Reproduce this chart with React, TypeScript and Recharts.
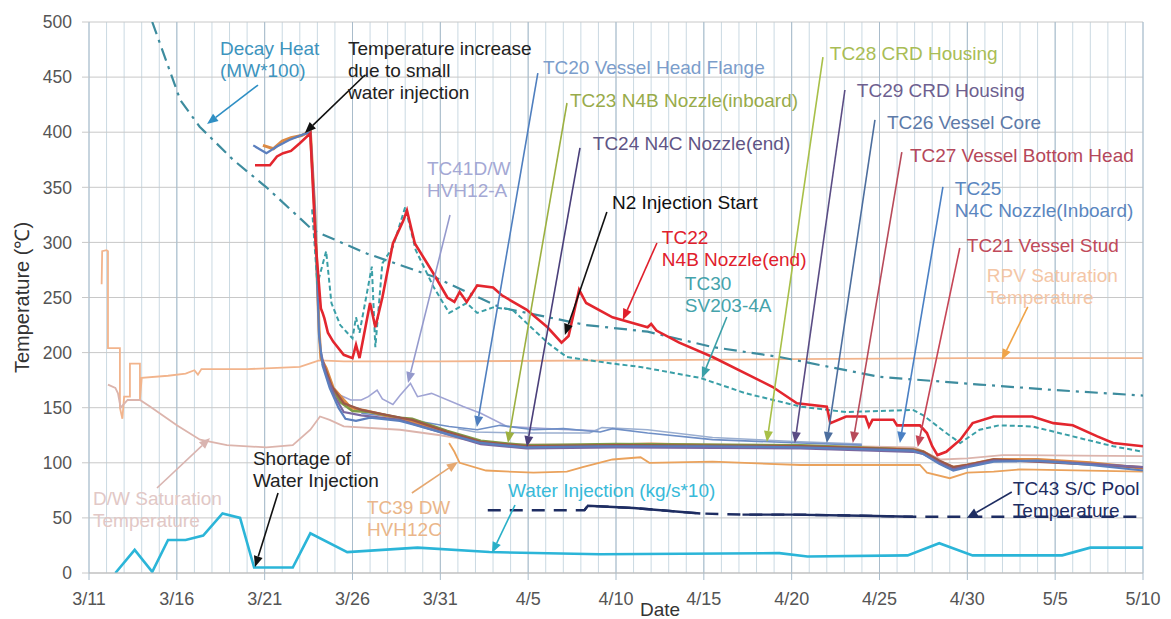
import { CartesianGrid, Line, LineChart, ReferenceDot, ReferenceLine, XAxis, YAxis } from "recharts";

type Pt = [number, number | null];

// x = days after 3/11, y = °C (or scaled value)
const dateLabels = ["3/11", "3/16", "3/21", "3/26", "3/31", "4/5", "4/10", "4/15", "4/20", "4/25", "4/30", "5/5", "5/10"];
const dayTicks = Array.from({ length: 61 }, (_, i) => i);
const labelDays = dateLabels.map((_, i) => i * 5);
const tempTicks = [0, 50, 100, 150, 200, 250, 300, 350, 400, 450, 500];

const decayHeat: Pt[] = [
  [3.6, 500], [5.2, 429], [6.3, 405], [8.2, 375], [10.1, 350], [12.75, 311], [15.8, 290], [19.6, 269],
  [23.4, 241], [28.3, 225], [31.8, 219], [35.5, 205], [39.3, 196], [45, 178], [50.7, 171], [55, 166], [60, 161],
];

const rpvSaturation: Pt[] = [
  [0.72, 262], [0.75, 292], [1.0, 293], [1.08, 292], [1.08, 204], [1.76, 204], [1.76, 150], [1.9, 140],
  [2.0, 160], [2.33, 160], [2.33, 190], [2.9, 190], [2.9, 157], [3.0, 177], [4.5, 179], [5.5, 181], [6.0, 184],
  [6.2, 180], [6.4, 185], [9, 185], [12, 187], [13.1, 193], [14.5, 192], [20, 192], [30, 193], [40, 194], [50, 195], [60, 195],
];

const dwSaturation: Pt[] = [
  [1.08, 171], [1.5, 168], [1.65, 163], [1.8, 150], [2.2, 157], [2.9, 157], [3.47, 151], [5, 134], [6.32, 121],
  [7.85, 116], [10.1, 114], [11.6, 116], [12.6, 130], [13.15, 142], [13.7, 139], [14.5, 133], [17.7, 130],
  [20, 125], [23, 117], [30, 116], [40, 116], [47, 114], [48.5, 103], [50, 104], [52, 107], [60, 106],
];

const waterInjection: Pt[] = [
  [1.5, 0], [2.6, 21], [3.6, 1], [4.5, 30], [5.5, 30], [6.5, 34], [7.6, 54], [8.6, 50], [9.4, 5], [11.6, 5],
  [12.6, 36], [14.7, 19], [18.7, 23], [22.8, 19], [29.1, 17], [39.3, 18], [40.9, 15], [46.6, 16], [48.4, 27],
  [50.3, 16], [55.4, 16], [57, 23], [60, 23],
];

const tc43Dashed: Pt[] = [
  [22.7, 57], [28.2, 57], [28.4, 61], [31, 59], [34.8, 54], [37.2, 53], [40, 53], [44, 52], [46.9, 51], [60, 51],
];
const tc43Solid: Pt[] = [
  [28.2, 57], [28.4, 61], [31, 59], [34.8, 54], [35, null], [37.2, 53], [40, 53], [44, 52], [46.9, 51],
];

const tc22: Pt[] = [
  [9.45, 370], [10.3, 370], [10.7, 378], [11.05, 381], [11.5, 383], [12.0, 390], [12.6, 399], [12.9, 300],
  [13.2, 240], [13.3, 236], [13.4, 231], [13.6, 218], [13.9, 210], [14.5, 198], [15.0, 195], [15.2, 207],
  [15.4, 195], [16.0, 245], [16.3, 223], [16.7, 250], [17.3, 299], [17.9, 320], [18.1, 329], [18.55, 299],
  [19.6, 272], [20.4, 250], [20.8, 246], [21.1, 255], [21.5, 246], [22.1, 261], [23.0, 259], [23.5, 252],
  [24.9, 239], [26.1, 223], [26.9, 209], [27.3, 215], [27.9, 257], [28.3, 245], [29.8, 232], [31.8, 223],
  [32.0, 226], [32.3, 220], [33.6, 209], [35.5, 196], [38.9, 169], [40.3, 154], [42.0, 151], [42.2, 136],
  [43.1, 142], [44.2, 142], [44.4, 133], [44.6, 139], [45.8, 139], [46.0, 134], [47.3, 134], [47.7, 127],
  [48.0, 115], [48.3, 107], [48.8, 110], [49.6, 121], [50.3, 136], [51.5, 142], [53.7, 142], [54.9, 136],
  [56, 134], [57.4, 124], [58.3, 118], [60, 115],
];

const tc30: Pt[] = [
  [12.7, 330], [13.0, 262], [13.5, 292], [13.8, 245], [14.3, 225], [14.7, 218], [15.0, 213], [15.2, 232],
  [15.4, 218], [16.1, 278], [16.3, 205], [16.7, 281], [17.3, 296], [18.0, 332], [18.6, 293], [19.6, 260],
  [20.5, 236], [21.5, 245], [22.1, 236], [23.0, 241], [24.1, 239], [26.1, 209], [27.2, 196], [29.8, 190],
  [31.4, 187], [34.8, 177], [37.4, 163], [40.5, 151], [43.1, 146], [46.9, 148], [47.5, 143], [48.8, 127],
  [49.6, 118], [50.7, 130], [51.8, 134], [53.7, 133], [56, 124], [58.3, 115], [60, 110],
];

const bundleOrange: Pt[] = [
  [9.9, 388], [10.5, 385], [11.0, 392], [11.5, 395], [12.1, 397], [12.6, 401], [12.85, 330], [13.1, 220],
  [13.2, 195], [13.5, 186], [13.9, 168], [14.5, 157], [14.9, 150], [15.8, 147], [17.7, 140], [18.4, 137],
  [20.4, 127], [22.3, 119], [24.9, 115], [29, 116], [32, 117], [35, 116], [40.5, 115], [46.9, 112], [47.5, 110],
  [48.4, 101], [49.2, 96], [50, 98], [51.5, 103], [54, 103], [57, 100], [60, 95],
];
const bundleBlue: Pt[] = [
  [9.35, 388], [10.1, 381], [10.7, 387], [11.4, 393], [12.2, 398], [12.6, 400], [12.85, 330], [13.1, 215],
  [13.3, 188], [13.7, 168], [14.2, 150], [14.6, 140], [15.2, 138], [16, 141], [17.7, 138], [18.4, 135],
  [20.4, 126], [22.3, 118], [24.9, 114], [29, 115], [35, 115], [40.5, 114], [46.9, 111], [47.5, 108],
  [48.4, 99], [49.2, 93], [50, 96], [51.5, 101], [54, 102], [57, 98], [60, 93],
];
const bundlePurple: Pt[] = [
  [13.2, 200], [13.5, 180], [14, 160], [14.5, 146], [15.5, 143], [17.7, 139], [20.4, 126], [22.3, 117],
  [24.9, 113], [30, 114], [40.5, 113], [46.9, 110], [47.5, 108], [48.4, 100], [49.2, 94], [50, 97],
  [51.5, 102], [55, 101], [60, 96],
];
const bundleGreen: Pt[] = [
  [13.3, 190], [13.7, 172], [14.3, 155], [15, 147], [16, 146], [17.7, 141], [18.4, 140], [20.4, 129],
  [22.3, 120], [24.9, 116], [30, 117], [40.5, 116], [46.9, 112], [47.5, 110],
];
const bundleBrown: Pt[] = [
  [13.3, 192], [13.8, 170], [14.5, 154], [15.5, 148], [17.7, 141], [18.4, 139], [20.4, 128], [22.3, 119],
  [24.9, 115], [30, 116], [40.5, 115], [46.9, 112], [47.5, 110], [48.4, 102], [49.2, 96], [50, 98],
  [51.5, 103], [60, 96],
];

const tc20: Pt[] = [
  [15.5, 145], [17.7, 141], [19, 137], [20.5, 133], [22.1, 130], [23.4, 134], [25.3, 130], [27, 131],
  [29.1, 128], [29.8, 131], [31.8, 127], [35.5, 121], [40.5, 118], [44, 116],
];
const tc20b: Pt[] = [
  [21, 131], [22, 128], [25, 127], [28.5, 127], [29.2, 132], [31.8, 130], [35.5, 123], [40.5, 119], [44, 117],
];
const tc41: Pt[] = [
  [13.8, 165], [14.9, 157], [15.5, 157], [15.9, 160], [16.4, 166], [16.7, 158], [17.3, 153], [17.7, 161],
  [18.3, 172], [18.7, 160], [19.5, 163], [21.3, 151], [22.3, 145], [23.8, 133], [26, 131], [29, 129],
];
const tc39: Pt[] = [
  [20.5, 118], [20.8, 110], [21.1, 100], [22.6, 93], [25.3, 91], [27.2, 92], [28.1, 96], [29.8, 103],
  [31.4, 105], [31.9, 100], [35.5, 101], [40.5, 98], [47.3, 98], [47.7, 91], [49, 86], [50, 91], [51.5, 92],
  [53, 94], [60, 92],
];

// annotation text: [day, value] of first line's left/middle
const notes = [
  { lines: ["Decay Heat", "(MW*100)"], at: [7.46, 476.4], color: "#3d94be" },
  { lines: ["Temperature increase", "due to small", "water injection"], at: [14.74, 476.4], color: "#222" },
  { lines: ["TC20 Vessel Head Flange"], at: [25.84, 459.2], color: "#7b9dcb" },
  { lines: ["TC23 N4B Nozzle(inboard)"], at: [27.38, 429.2], color: "#98ab4a" },
  { lines: ["TC24 N4C Nozzle(end)"], at: [28.68, 390.2], color: "#5f5585" },
  { lines: ["TC41D/W", "HVH12-A"], at: [19.24, 367.5], color: "#a4a8d4" },
  { lines: ["N2 Injection Start"], at: [29.77, 336.7], color: "#111" },
  { lines: ["TC22", "N4B Nozzle(end)"], at: [32.61, 304.9], color: "#e0202c" },
  { lines: ["TC30", "SV203-4A"], at: [33.92, 263.2], color: "#45a3ab" },
  { lines: ["TC28 CRD Housing"], at: [42.17, 471.9], color: "#a9bd55" },
  { lines: ["TC29 CRD Housing"], at: [43.71, 438.3], color: "#6e5f8f" },
  { lines: ["TC26 Vessel Core"], at: [45.42, 409.3], color: "#5d7aa8" },
  { lines: ["TC27 Vessel Bottom Head"], at: [46.73, 379.3], color: "#b5475a" },
  { lines: ["TC25", "N4C Nozzle(Inboard)"], at: [49.29, 349.4], color: "#5a86c0" },
  { lines: ["TC21 Vessel Stud"], at: [49.97, 297.6], color: "#c04a5a" },
  { lines: ["RPV Saturation", "Temperature"], at: [51.11, 270.4], color: "#f4c6a6" },
  { lines: ["D/W Saturation", "Temperature"], at: [0.23, 68.1], color: "#e2c8c6" },
  { lines: ["Shortage of", "Water Injection"], at: [9.33, 104.4], color: "#222" },
  { lines: ["TC39 DW", "HVH12C"], at: [15.82, 59.9], color: "#eab68a" },
  { lines: ["Water Injection (kg/s*10)"], at: [23.85, 75.3], color: "#38bad9" },
  { lines: ["TC43 S/C Pool", "Temperature"], at: [52.59, 77.1], color: "#1e2d62" },
];

const arrows = [
  { from: [9.62, 442.8], to: [6.72, 407.4], color: "#2f8fc4" },
  { from: [15.71, 451.9], to: [12.29, 399.3], color: "#111" },
  { from: [25.55, 453.7], to: [22.08, 132.5], color: "#4f7fbf" },
  { from: [27.21, 426.5], to: [23.85, 118.0], color: "#9cb040" },
  { from: [27.95, 385.7], to: [24.93, 114.3], color: "#4a3f7a" },
  { from: [20.55, 324.9], to: [18.16, 172.4], color: "#9499cc" },
  { from: [29.48, 327.6], to: [27.09, 216.0], color: "#111" },
  { from: [32.33, 299.5], to: [30.39, 229.6], color: "#e0202c" },
  { from: [36.31, 232.3], to: [34.89, 176.9], color: "#3aa0a8" },
  { from: [41.78, 468.2], to: [38.59, 118.9], color: "#a8c048" },
  { from: [43.03, 438.3], to: [40.18, 118.0], color: "#5a4c84" },
  { from: [44.74, 411.1], to: [42.0, 118.0], color: "#4c6e9e" },
  { from: [46.27, 382.0], to: [43.48, 118.0], color: "#b84a5a" },
  { from: [48.61, 350.3], to: [46.16, 118.0], color: "#4a80c4" },
  { from: [49.57, 294.9], to: [47.18, 114.3], color: "#c64556" },
  { from: [53.44, 241.4], to: [51.96, 193.3], color: "#f0a448" },
  { from: [3.87, 77.1], to: [6.89, 122.5], color: "#d9b4b0" },
  { from: [10.76, 72.6], to: [9.45, 5.4], color: "#111" },
  { from: [18.38, 72.6], to: [21.0, 100.7], color: "#e6a870" },
  { from: [24.25, 61.7], to: [22.94, 18.1], color: "#2ab0c8" },
  { from: [52.53, 73.5], to: [49.97, 49.9], color: "#1e2d62" },
];

const rows = (pts: Pt[]) => pts.map(([day, v]) => ({ day, v }));

const arrowShape = (color: string) => (p: any) => {
  const { x1, y1, x2, y2 } = p;
  if ([x1, y1, x2, y2].some((n) => typeof n !== "number" || Number.isNaN(n))) return <g />;
  const a = Math.atan2(y2 - y1, x2 - x1);
  const len = 11;
  const w = 4.5;
  const bx = x2 - len * Math.cos(a);
  const by = y2 - len * Math.sin(a);
  const pts = [
    `${x2},${y2}`,
    `${bx + w * Math.sin(a)},${by - w * Math.cos(a)}`,
    `${bx - w * Math.sin(a)},${by + w * Math.cos(a)}`,
  ].join(" ");
  return (
    <g>
      <line x1={x1} y1={y1} x2={bx} y2={by} stroke={color} strokeWidth={1.6} />
      <polygon points={pts} fill={color} />
    </g>
  );
};

const noteShape = (lines: string[], color: string) => (p: any) => (
  <text x={p.cx} y={p.cy} fill={color} fontSize={19}>
    {lines.map((t, i) => (
      <tspan key={i} x={p.cx} dy={i === 0 ? "0.35em" : 22}>
        {t}
      </tspan>
    ))}
  </text>
);

// date tick: label + short tick mark only on every fifth day
const DateTick = (p: any) => {
  const d = p.payload?.value as number;
  if (d % 5 !== 0) return <g />;
  return (
    <g>
      <line x1={p.x} y1={p.y - 19} x2={p.x} y2={p.y - 12} stroke="#a9bccb" />
      <text x={p.x} y={p.y} dy="0.71em" textAnchor="middle" fontSize={18} fill="#555">
        {dateLabels[d / 5]}
      </text>
    </g>
  );
};

const yLabel = (p: any) => {
  const vb = p.viewBox || { x: 0, y: 22, width: 89, height: 551 };
  const cx = vb.x + 22;
  const cy = vb.y + vb.height / 2;
  return (
    <text x={cx} y={cy} transform={`rotate(-90 ${cx} ${cy})`} textAnchor="middle" dominantBaseline="central" fontSize={20} fill="#333">
      Temperature (℃)
    </text>
  );
};

const series = [
  { key: "rpv", pts: rpvSaturation, color: "#f2b48c", width: 1.8 },
  { key: "dw", pts: dwSaturation, color: "#dcb4ac", width: 1.8 },
  { key: "water", pts: waterInjection, color: "#2bb5d8", width: 2.6 },
  { key: "tc39", pts: tc39, color: "#eaa25c", width: 1.8 },
  { key: "tc41", pts: tc41, color: "#a0a4d4", width: 1.6 },
  { key: "tc20b", pts: tc20b, color: "#9aaed0", width: 1.5 },
  { key: "tc20", pts: tc20, color: "#6f8fc6", width: 1.6 },
  { key: "bOrange", pts: bundleOrange, color: "#dc8a44", width: 3 },
  { key: "bGreen", pts: bundleGreen, color: "#7f9a45", width: 2.4 },
  { key: "bBrown", pts: bundleBrown, color: "#9b5848", width: 2.4 },
  { key: "bPurple", pts: bundlePurple, color: "#7a68a0", width: 2.2 },
  { key: "bBlue", pts: bundleBlue, color: "#5b7fbe", width: 2.2 },
];

export default function App() {
  return (
    <div
      style={{
        position: "absolute",
        left: 0,
        top: 0,
        width: 1171,
        height: 619,
        background: "#fff",
        fontFamily: "'Liberation Sans', Arial, sans-serif",
      }}
    >
      <LineChart width={1171} height={619} margin={{ top: 22, right: 28, left: 0, bottom: 0 }}>
        <CartesianGrid horizontal={false} stroke="#cad9e2" strokeWidth={1} />
        <CartesianGrid vertical={false} stroke="#c8c8c8" strokeWidth={1} />
        {labelDays.map((d) => (
          <ReferenceLine key={`g${d}`} x={d} stroke="#a9bccb" strokeWidth={1} />
        ))}
        <XAxis
          type="number"
          dataKey="day"
          domain={[0, 60]}
          ticks={dayTicks}
          interval={0}
          allowDataOverflow
          height={46}
          tick={DateTick}
          tickLine={false}
          tickSize={6}
          tickMargin={13}
          axisLine={{ stroke: "#bdbdbd" }}
          label={{ value: "Date", position: "insideBottom", offset: 3, dx: 44, fontSize: 19, fill: "#333" }}
        />
        <YAxis
          type="number"
          domain={[0, 500]}
          ticks={tempTicks}
          interval={0}
          allowDataOverflow
          width={89}
          tick={{ fontSize: 17.5, fill: "#555" }}
          tickLine={{ stroke: "#c8c8c8" }}
          tickSize={7}
          tickMargin={10}
          axisLine={false}
          label={{ content: yLabel }}
        />

        {series.map((s) => (
          <Line
            key={s.key}
            data={rows(s.pts)}
            dataKey="v"
            type="linear"
            stroke={s.color}
            strokeWidth={s.width}
            dot={false}
            activeDot={false}
            isAnimationActive={false}
          />
        ))}
        <Line data={rows(tc43Dashed)} dataKey="v" stroke="#1e2d62" strokeWidth={2.4} strokeDasharray="13 9" dot={false} activeDot={false} isAnimationActive={false} />
        <Line data={rows(tc43Solid)} dataKey="v" stroke="#1e2d62" strokeWidth={2.4} dot={false} activeDot={false} isAnimationActive={false} />
        <Line data={rows(decayHeat)} dataKey="v" stroke="#3d8c9e" strokeWidth={2.2} strokeDasharray="13 6 3 6" dot={false} activeDot={false} isAnimationActive={false} />
        <Line data={rows(tc30)} dataKey="v" stroke="#3a9fa7" strokeWidth={2} strokeDasharray="5 3" dot={false} activeDot={false} isAnimationActive={false} />
        <Line data={rows(tc22)} dataKey="v" stroke="#e3262e" strokeWidth={2.6} dot={false} activeDot={false} isAnimationActive={false} />

        {arrows.map((a, i) => (
          <ReferenceLine
            key={`a${i}`}
            segment={[
              { x: a.from[0], y: a.from[1] },
              { x: a.to[0], y: a.to[1] },
            ]}
            shape={arrowShape(a.color)}
          />
        ))}
        {notes.map((n, i) => (
          <ReferenceDot key={`n${i}`} x={n.at[0]} y={n.at[1]} r={0} shape={noteShape(n.lines, n.color)} />
        ))}
      </LineChart>
    </div>
  );
}
